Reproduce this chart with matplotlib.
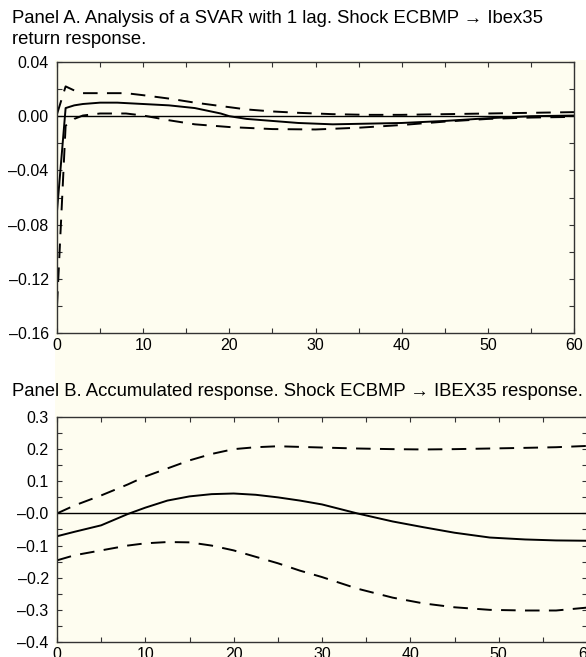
import matplotlib
matplotlib.use('Agg')
import matplotlib.pyplot as plt
from matplotlib.ticker import MultipleLocator, FixedLocator

plt.rcParams['font.family'] = ['Liberation Sans', 'DejaVu Sans']

# Panel A: impulse response, lags 0..60
xa = [0, 1, 2, 3, 5, 7, 10, 13, 16, 19, 20, 22, 25, 28, 32, 36, 40, 45, 50, 55, 60]
resp_a = [-0.070, 0.006, 0.008, 0.009, 0.010, 0.010, 0.009, 0.008, 0.006, 0.002, 0.000,
          -0.002, -0.0035, -0.005, -0.006, -0.0055, -0.005, -0.0035, -0.0015, 0.000, 0.0005]
xa_up = [0, 1, 2, 3, 5, 8, 10, 13, 16, 19, 22, 25, 28, 32, 36, 40, 45, 50, 55, 60]
upper_a = [0.0015, 0.022, 0.019, 0.017, 0.017, 0.017, 0.0155, 0.013, 0.010, 0.0075, 0.005,
           0.0035, 0.0025, 0.0015, 0.001, 0.001, 0.0015, 0.002, 0.0025, 0.003]
xa_lo = [0, 1, 2, 3, 5, 8, 10, 13, 16, 20, 25, 30, 35, 40, 45, 50, 55, 60]
lower_a = [-0.140, -0.007, -0.002, 0.0005, 0.002, 0.002, 0.0005, -0.003, -0.006, -0.008,
           -0.0095, -0.0098, -0.0085, -0.0065, -0.004, -0.002, -0.001, -0.0005]

# Panel B: accumulated response
xb = [0, 2, 5, 8, 10, 12.5, 15, 17.5, 20, 22.5, 25, 27.5, 30, 34, 38, 41.5, 45, 49, 53, 56.5, 60]
resp_b = [-0.071, -0.057, -0.037, -0.002, 0.018, 0.040, 0.053, 0.060, 0.062, 0.058, 0.050,
          0.040, 0.028, 0.000, -0.025, -0.043, -0.060, -0.075, -0.081, -0.084, -0.085]
upper_b = [0.000, 0.025, 0.056, 0.090, 0.115, 0.140, 0.165, 0.185, 0.200, 0.206, 0.209,
           0.207, 0.205, 0.202, 0.200, 0.199, 0.200, 0.202, 0.204, 0.206, 0.210]
lower_b = [-0.146, -0.130, -0.115, -0.100, -0.093, -0.089, -0.090, -0.100, -0.115, -0.135,
           -0.155, -0.178, -0.198, -0.234, -0.262, -0.280, -0.292, -0.300, -0.302, -0.302, -0.293]

ya_ticks = [0.04, 0.00, -0.04, -0.08, -0.12, -0.16]
ya_labels = ['0.04', '0.00', '\u20130.04', '\u20130.08', '\u20130.12', '\u20130.16']
yb_ticks = [0.3, 0.2, 0.1, 0.0, -0.1, -0.2, -0.3, -0.4]
yb_labels = ['0.3', '0.2', '0.1', '\u20130.0', '\u20130.1', '\u20130.2', '\u20130.3', '\u20130.4']
x_ticks = [0, 10, 20, 30, 40, 50, 60]

title_a = 'Panel A. Analysis of a SVAR with 1 lag. Shock ECBMP \u2192 Ibex35\nreturn response.'
title_b = 'Panel B. Accumulated response. Shock ECBMP \u2192 IBEX35 response.'

cream = '#fefdf0'
W, H = 586, 657
fig = plt.figure(figsize=(W / 100, H / 100), dpi=100)
fig.patch.set_facecolor('white')
# cream backdrop behind the plotting region
fig.patches.append(plt.Rectangle((55 / W, 0), 1, 1 - 60 / H, transform=fig.transFigure,
                                 facecolor=cream, edgecolor='none', zorder=-5))

axA = fig.add_axes([57 / W, 1 - 333 / H, (574 - 57) / W, (333 - 62) / H])
axB = fig.add_axes([57 / W, 1 - 642 / H, (587 - 57) / W, (642 - 417) / H])

dash = dict(color='black', lw=1.4, dashes=(7.5, 4.8))
solid = dict(color='black', lw=1.4)

axA.axhline(0, color='black', lw=1.0)
axA.plot(xa, resp_a, **solid)
axA.plot(xa_up, upper_a, **dash)
axA.plot(xa_lo, lower_a, **dash)
axA.set_xlim(0, 60)
axA.set_ylim(-0.16, 0.04)
axA.yaxis.set_major_locator(FixedLocator(ya_ticks))
axA.set_yticklabels(ya_labels)
axA.yaxis.set_minor_locator(MultipleLocator(0.02))

axB.axhline(0, color='black', lw=1.0)
axB.plot(xb, resp_b, **solid)
axB.plot(xb, upper_b, **dash)
axB.plot(xb, lower_b, **dash)
axB.set_xlim(0, 60)
axB.set_ylim(-0.4, 0.3)
axB.yaxis.set_major_locator(FixedLocator(yb_ticks))
axB.set_yticklabels(yb_labels)
axB.yaxis.set_minor_locator(MultipleLocator(0.05))

for ax in (axA, axB):
    ax.set_facecolor(cream)
    ax.xaxis.set_major_locator(FixedLocator(x_ticks))
    ax.xaxis.set_minor_locator(MultipleLocator(5))
    ax.tick_params(which='both', direction='in', top=True, right=True,
                   length=3.5, width=0.8, color='#333333', labelsize=11.5, pad=6)
    ax.tick_params(axis='x', pad=3.5)
    for s in ax.spines.values():
        s.set_color('#333333')
        s.set_linewidth(1.0)

fig.text(12 / W, 1 - 10 / H, title_a, ha='left', va='top', fontsize=13.3, linespacing=1.3)
fig.text(12 / W, 1 - 392 / H, title_b, ha='left', va='center', fontsize=13.3)

fig.savefig('out.png', dpi=100, facecolor='white')
